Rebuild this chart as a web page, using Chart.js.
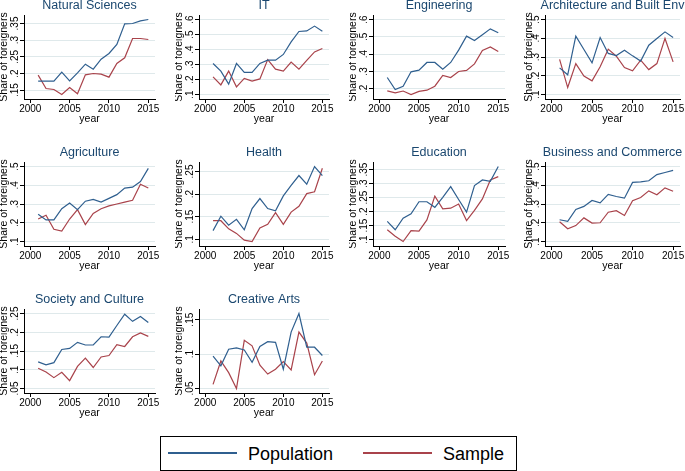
<!DOCTYPE html>
<html>
<head>
<meta charset="utf-8">
<script src="https://cdn.jsdelivr.net/npm/chart.js@4.4.1/dist/chart.umd.min.js"></script>
<style>
  html, body {margin: 0; padding: 0; background: #fff;}
  body {width: 685px; height: 471px; position: relative; overflow: hidden;}
  canvas {position: absolute;}
  .legend {position: absolute; left: 160px; top: 436px; width: 355px; height: 33px; border: 1px solid #000;
    font-family: "Liberation Sans", Arial, sans-serif; font-size: 18px; color: #000;}
  .legend .sw {position: absolute; top: 15px; width: 69px; height: 2px;}
  .legend span {position: absolute; top: 7px; line-height: 20px;}
</style>
</head>
<body>
<div class="legend">
  <div class="sw" style="left: 7px; background: #2f5f8f;"></div>
  <span style="left: 87px;">Population</span>
  <div class="sw" style="left: 202px; background: #a9434b;"></div>
  <span style="left: 282px;">Sample</span>
</div>
<script>
const years = [2001, 2002, 2003, 2004, 2005, 2006, 2007, 2008, 2009, 2010, 2011, 2012, 2013, 2014, 2015]
const xTicks = [2000, 2005, 2010, 2015]

// share of foreigners, population vs sample
const popNatSci = [.177, .177, .177, .204, .178, .202, .228, .213, .243, .26, .287, .349, .35, .358, .362]
const smpNatSci = [.195, .155, .152, .137, .158, .139, .196, .2, .198, .189, .23, .247, .305, .305, .302]
const popIT = [.307, .256, .169, .307, .247, .247, .307, .329, .329, .367, .451, .52, .524, .556, .522]
const smpIT = [.218, .164, .256, .151, .207, .189, .204, .333, .269, .256, .316, .269, .327, .384, .407]
const popEng = [.265, .196, .215, .298, .308, .352, .352, .313, .352, .423, .504, .479, .512, .546, .523]
const smpEng = [.188, .177, .187, .167, .185, .192, .215, .277, .265, .3, .306, .344, .421, .442, .415]
const popArch = [.242, .205, .411, .34, .269, .404, .319, .308, .336, .306, .278, .363, .399, .434, .404]
const smpArch = [.287, .137, .265, .198, .173, .248, .342, .304, .244, .226, .283, .233, .265, .399, .274]
const popAgri = [.245, .215, .215, .275, .305, .27, .315, .325, .31, .33, .35, .385, .39, .42, .49]
const smpAgri = [.22, .24, .165, .155, .22, .27, .19, .25, .275, .29, .3, .31, .32, .405, .385]
const popHealth = [.119, .151, .131, .144, .121, .168, .19, .168, .163, .196, .219, .241, .222, .261, .241]
const smpHealth = [.141, .141, .123, .113, .098, .095, .125, .133, .159, .133, .16, .173, .201, .205, .257]
const popEdu = [.165, .135, .176, .192, .235, .235, .215, .251, .289, .243, .198, .293, .313, .308, .361]
const smpEdu = [.135, .112, .093, .132, .13, .17, .255, .21, .212, .227, .168, .204, .245, .313, .325]
const popBus = [.216, .208, .271, .287, .319, .306, .351, .34, .331, .415, .418, .424, .457, .468, .479]
const smpBus = [.205, .168, .185, .226, .198, .2, .256, .264, .239, .317, .335, .37, .349, .386, .368]
const popSoc = [.121, .113, .119, .154, .157, .173, .166, .166, .188, .187, .218, .248, .229, .242, .226]
const smpSoc = [.104, .094, .079, .093, .071, .109, .131, .106, .134, .138, .167, .162, .188, .198, .189]
const popArts = [.097, .083, .107, .109, .106, .088, .111, .118, .117, .078, .132, .159, .11, .11, .098]
const smpArts = [.056, .09, .073, .05, .12, .112, .084, .071, .078, .089, .077, .132, .116, .07, .09]

// y ticks for each panel
const ticksNatSci = [.15, .2, .25, .3, .35]
const ticksIT = [.1, .2, .3, .4, .5, .6]
const ticksEng = [.2, .3, .4, .5, .6]
const ticksArch = [.1, .2, .3, .4, .5]
const ticksAgri = [.1, .2, .3, .4, .5]
const ticksHealth = [.1, .15, .2, .25]
const ticksEdu = [.1, .15, .2, .25, .3, .35]
const ticksBus = [.1, .2, .3, .4, .5]
const ticksSoc = [.05, .1, .15, .2, .25]
const ticksArts = [.05, .1, .15]

const panels = [
  {title: 'Natural Sciences', pop: popNatSci, smp: smpNatSci, ticks: ticksNatSci},
  {title: 'IT', pop: popIT, smp: smpIT, ticks: ticksIT},
  {title: 'Engineering', pop: popEng, smp: smpEng, ticks: ticksEng},
  {title: 'Architecture and Built Env', pop: popArch, smp: smpArch, ticks: ticksArch},
  {title: 'Agriculture', pop: popAgri, smp: smpAgri, ticks: ticksAgri},
  {title: 'Health', pop: popHealth, smp: smpHealth, ticks: ticksHealth},
  {title: 'Education', pop: popEdu, smp: smpEdu, ticks: ticksEdu},
  {title: 'Business and Commerce', pop: popBus, smp: smpBus, ticks: ticksBus},
  {title: 'Society and Culture', pop: popSoc, smp: smpSoc, ticks: ticksSoc},
  {title: 'Creative Arts', pop: popArts, smp: smpArts, ticks: ticksArts},
]

// layout
const FONT = '"Liberation Sans", Arial, sans-serif'
const POP_COLOR = '#2f5f8f'
const SMP_COLOR = '#a9434b'
const colAxisX = [24, 199, 373, 545]
const colPlotW = [131, 130, 132, 135]
const rowPlotTop = [15, 162, 309]
const yTitlePad = [-0.8, -0.8, -0.8, 3]
const yLabelOff = [-5.7, -6, -6, -6.5]
const PLOT_H = 84
const TITLE_H = 18
const XAXIS_H = 30
const YAXIS_W = 24
const MARGIN = 0.06

const fmt = v => String(+v.toFixed(2)).replace(/^0/, '')

/** Stata style vertical tick labels on the y axis. */
const yLabels = {
  id: 'yLabels',
  afterDraw(chart, args, opts) {
    const {ctx} = chart
    const sc = chart.scales.y
    ctx.save()
    ctx.fillStyle = '#000'
    ctx.font = '10px ' + FONT
    ctx.textAlign = 'center'
    ctx.textBaseline = 'alphabetic'
    for (const t of sc.ticks) {
      ctx.save()
      ctx.translate(sc.right + opts.offset, sc.getPixelForValue(t.value))
      ctx.rotate(-Math.PI / 2)
      ctx.fillText(fmt(t.value), 0, 0)
      ctx.restore()
    }
    ctx.restore()
  },
}

panels.forEach((p, i) => {
  const row = Math.floor(i / 4)
  const col = i % 4
  const canvas = document.createElement('canvas')
  canvas.width = YAXIS_W + colPlotW[col] + YAXIS_W
  canvas.height = TITLE_H + PLOT_H + XAXIS_H
  canvas.style.left = (colAxisX[col] - YAXIS_W) + 'px'
  canvas.style.top = (rowPlotTop[row] - TITLE_H) + 'px'
  document.body.appendChild(canvas)

  const all = p.pop.concat(p.smp, p.ticks)
  const lo = Math.min(...all)
  const hi = Math.max(...all)
  const pad = (hi - lo) * MARGIN

  new Chart(canvas, {
    type: 'line',
    data: {
      labels: years,
      datasets: [
        {label: 'Population', data: p.pop, borderColor: POP_COLOR, borderWidth: 1.2, pointRadius: 0, yAxisID: 'y'},
        {label: 'Sample', data: p.smp, borderColor: SMP_COLOR, borderWidth: 1.2, pointRadius: 0, yAxisID: 'y'},
      ],
    },
    options: {
      responsive: false,
      animation: false,
      devicePixelRatio: 1,
      layout: {padding: 0},
      plugins: {
        legend: {display: false},
        tooltip: {enabled: false},
        title: {
          display: true,
          text: p.title,
          color: '#1a476f',
          font: {family: FONT, size: 12.5, weight: 'normal', lineHeight: 1.2},
          padding: {top: 1, bottom: 2},
        },
        yLabels: {offset: yLabelOff[col]},
      },
      scales: {
        x: {
          type: 'linear',
          min: 1999.2,
          max: 2015.85,
          afterBuildTicks: s => { s.ticks = xTicks.map(v => ({value: v})) },
          afterFit: s => { s.height = XAXIS_H },
          grid: {drawOnChartArea: false, drawTicks: true, tickLength: 4, tickColor: '#000'},
          border: {color: '#000', width: 1},
          ticks: {
            color: '#000', padding: 1, maxRotation: 0, autoSkip: false,
            font: {family: FONT, size: 10, lineHeight: 1},
            callback: v => String(v),
          },
          title: {
            display: true, text: 'year', color: '#000',
            font: {family: FONT, size: 10.5, lineHeight: 1},
            padding: {top: 0, bottom: 4.75},
          },
        },
        y: {
          type: 'linear',
          position: 'left',
          min: lo - pad,
          max: hi + pad,
          afterBuildTicks: s => { s.ticks = p.ticks.map(v => ({value: v})) },
          afterFit: s => { s.width = YAXIS_W },
          grid: {color: '#dfe9eb', lineWidth: 1, drawTicks: true, tickLength: 4, tickColor: '#000'},
          border: {color: '#000', width: 1},
          ticks: {display: false},
          title: {
            display: true, text: 'Share of foreigners', color: '#000',
            font: {family: FONT, size: 10.5, lineHeight: 1},
            padding: {top: yTitlePad[col], bottom: 0},
          },
        },
        yR: {
          position: 'right',
          afterFit: s => { s.width = YAXIS_W },
          grid: {display: false},
          border: {display: false},
          ticks: {display: false},
        },
      },
    },
    plugins: [yLabels],
  })
})
</script>
</body>
</html>
